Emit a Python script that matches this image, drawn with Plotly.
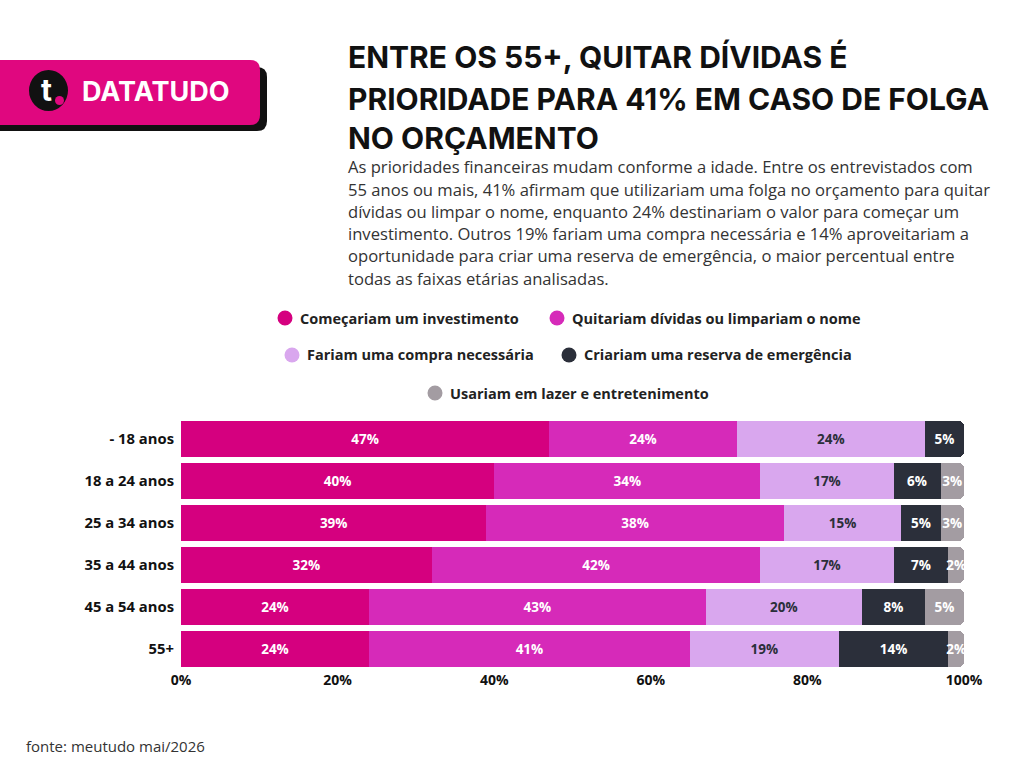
import plotly.graph_objects as go

W, H = 1024, 768
def px(x): return x / W
def py(y): return 1 - y / H

categories = ["- 18 anos", "18 a 24 anos", "25 a 34 anos", "35 a 44 anos", "45 a 54 anos", "55+"]
series_names = ["Começariam um investimento", "Quitariam dívidas ou limpariam o nome",
                "Fariam uma compra necessária", "Criariam uma reserva de emergência",
                "Usariam em lazer e entretenimento"]
investimento = [47, 40, 39, 32, 24, 24]
quitar = [24, 34, 38, 42, 43, 41]
compra = [24, 17, 15, 17, 20, 19]
reserva = [5, 6, 5, 7, 8, 14]
lazer = [None, 3, 3, 2, 5, 2]
x_ticks = [0, 20, 40, 60, 80, 100]
x_tick_labels = ["0%", "20%", "40%", "60%", "80%", "100%"]

colors = ["#d5007f", "#d62ab9", "#d9a7ee", "#2b2f3a", "#a39ca2"]
text_colors = ["white", "white", "#2b2f3a", "white", "white"]
all_series = [investimento, quitar, compra, reserva, lazer]

FONT_B = "Open Sans"
fig = go.Figure()
for name, vals, c, tc in zip(series_names, all_series, colors, text_colors):
    fig.add_trace(go.Bar(
        y=categories, x=vals, name=name, orientation="h",
        marker=dict(color=c, line=dict(width=0)),
        text=[f"{v}%" if v else "" for v in vals],
        textposition="inside", insidetextanchor="middle", textangle=0,
        constraintext="none", cliponaxis=False,
        textfont=dict(family=FONT_B, size=13.5, color=tc, weight="bold"),
        hoverinfo="skip", showlegend=False,
    ))

fig.update_layout(
    width=W, height=H, barmode="stack", bargap=0.15, barcornerradius=5,
    margin=dict(l=0, r=0, t=0, b=0),
    paper_bgcolor="white", plot_bgcolor="white",
    uniformtext=dict(minsize=13.5, mode="show"),
    xaxis=dict(domain=[px(181), px(964)], range=[0, 100], tickvals=x_ticks, ticktext=x_tick_labels,
               showgrid=False, zeroline=False, showline=False, ticks="", automargin=False,
               tickfont=dict(family=FONT_B, size=14, color="#111", weight="bold")),
    yaxis=dict(domain=[py(670), py(418)], autorange="reversed", showgrid=False, zeroline=False,
               showline=False, ticks="", ticklabelstandoff=6, automargin=False,
               tickfont=dict(family=FONT_B, size=14.8, color="#111", weight="bold")),
)

shapes = []
annotations = []
# Logo
shapes.append(dict(type="path", xref="paper", yref="paper",
                   path=f"M {px(-10)} {py(67)} L {px(257)} {py(67)} Q {px(267)} {py(67)} {px(267)} {py(77)} "
                        f"L {px(267)} {py(121)} Q {px(267)} {py(131)} {px(257)} {py(131)} L {px(-10)} {py(131)} Z",
                   fillcolor="#111", line=dict(width=0)))
shapes.append(dict(type="path", xref="paper", yref="paper",
                   path=f"M {px(-10)} {py(60)} L {px(250)} {py(60)} Q {px(260)} {py(60)} {px(260)} {py(70)} "
                        f"L {px(260)} {py(115)} Q {px(260)} {py(125)} {px(250)} {py(125)} L {px(-10)} {py(125)} Z",
                   fillcolor="#e0077f", line=dict(width=0)))
shapes.append(dict(type="circle", xref="paper", yref="paper",
                   x0=px(29), x1=px(68), y0=py(70), y1=py(111), fillcolor="#111", line=dict(width=0)))
shapes.append(dict(type="circle", xref="paper", yref="paper",
                   x0=px(55), x1=px(64), y0=py(96), y1=py(105), fillcolor="#e0077f", line=dict(width=0)))
annotations.append(dict(x=px(46), y=py(90), xref="paper", yref="paper", text="<b>t</b>", showarrow=False,
                        xanchor="center", yanchor="middle",
                        font=dict(family="Inter", size=30, color="white")))
annotations.append(dict(x=px(80), y=py(92), xref="paper", yref="paper", text="DATATUDO", showarrow=False,
                        xanchor="left", yanchor="middle",
                        font=dict(family="Inter", size=27, color="white", weight="bold")))

# Title
title_lines = ["ENTRE OS 55+, QUITAR DÍVIDAS É", "PRIORIDADE PARA 41% EM CASO DE FOLGA", "NO ORÇAMENTO"]
for i, (t, yy) in enumerate(zip(title_lines, [57, 99, 138])):
    annotations.append(dict(x=px(346), y=py(yy), xref="paper", yref="paper", text=t, showarrow=False,
                            xanchor="left", yanchor="middle",
                            font=dict(family="Inter", size=30, color="#111", weight="bold")))

sub_lines = [
    "As prioridades financeiras mudam conforme a idade. Entre os entrevistados com",
    "55 anos ou mais, 41% afirmam que utilizariam uma folga no orçamento para quitar",
    "dívidas ou limpar o nome, enquanto 24% destinariam o valor para começar um",
    "investimento. Outros 19% fariam uma compra necessária e 14% aproveitariam a",
    "oportunidade para criar uma reserva de emergência, o maior percentual entre",
    "todas as faixas etárias analisadas.",
]
for i, t in enumerate(sub_lines):
    annotations.append(dict(x=px(346), y=py(167 + 22.2 * i), xref="paper", yref="paper", text=t,
                            showarrow=False, xanchor="left", yanchor="middle",
                            font=dict(family="Open Sans", size=16.6, color="#333")))

# Legend
legend_pos = [(285, 318), (557, 318), (292, 355), (569, 355), (435, 393)]
for (cx, cy), name, c in zip(legend_pos, series_names, colors):
    r = 7.5
    shapes.append(dict(type="circle", xref="paper", yref="paper",
                       x0=px(cx - r), x1=px(cx + r), y0=py(cy + r), y1=py(cy - r),
                       fillcolor=c, line=dict(width=0)))
    annotations.append(dict(x=px(cx + 13), y=py(cy), xref="paper", yref="paper", text=name,
                            showarrow=False, xanchor="left", yanchor="middle",
                            font=dict(family=FONT_B, size=14.5, color="#222", weight="bold")))

annotations.append(dict(x=px(24), y=py(746), xref="paper", yref="paper", text="fonte: meutudo mai/2026",
                        showarrow=False, xanchor="left", yanchor="middle",
                        font=dict(family="Open Sans", size=15, color="#333")))

fig.update_layout(shapes=shapes, annotations=annotations)
fig.write_html("out.html")
